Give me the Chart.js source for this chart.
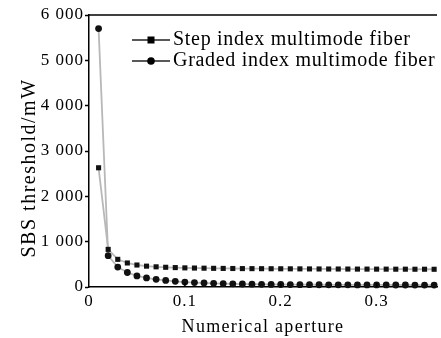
<!DOCTYPE html>
<html>
<head>
<meta charset="utf-8">
<script src="https://cdn.jsdelivr.net/npm/chart.js@4"></script>
<style>
  html, body { margin: 0; padding: 0; background: #fff; overflow: hidden; }
  #chart { display: block; }
</style>
</head>
<body>
<canvas id="chart" width="441" height="338"></canvas>
<script>
// numerical aperture, 0.01 .. 0.36
const apertures = [0.01, 0.02, 0.03, 0.04, 0.05, 0.06, 0.07, 0.08, 0.09, 0.10,
  0.11, 0.12, 0.13, 0.14, 0.15, 0.16, 0.17, 0.18, 0.19, 0.20,
  0.21, 0.22, 0.23, 0.24, 0.25, 0.26, 0.27, 0.28, 0.29, 0.30,
  0.31, 0.32, 0.33, 0.34, 0.35, 0.36];

// SBS threshold (mW)
const stepIndex = [2630, 830, 610, 530, 485, 460, 445, 435, 428, 422,
  418, 415, 412, 410, 408, 406, 405, 404, 403, 402,
  401, 400, 399, 398, 397, 397, 396, 395, 395, 394,
  394, 393, 393, 392, 392, 391];
const gradedIndex = [5700, 690, 440, 320, 245, 200, 170, 145, 125, 108,
  97, 88, 81, 75, 70, 66, 63, 60, 57, 55,
  53, 52, 51, 50, 49, 48, 47, 46, 46, 45,
  45, 44, 44, 43, 43, 42];

const seriesNames = ["Step index multimode fiber", "Graded index multimode fiber"];
const xTicks = [0, 0.1, 0.2, 0.3];
const yTicks = [0, 1000, 2000, 3000, 4000, 5000, 6000];
const xTitle = "Numerical aperture";
const yTitle = "SBS threshold/mW";

const SERIF = "'Liberation Serif', 'Times New Roman', serif";

const toPoints = vals => vals.map((v, i) => ({ x: apertures[i], y: v }));

const frame = {
  id: "frame",
  beforeDraw(chart) {
    chart.ctx.letterSpacing = "1px";
  },
  afterDraw(chart) {
    const { ctx, chartArea: a, scales } = chart;
    ctx.save();
    // top border
    ctx.strokeStyle = "#000";
    ctx.lineWidth = 1.5;
    ctx.beginPath();
    ctx.moveTo(a.left, a.top);
    ctx.lineTo(a.right, a.top);
    ctx.stroke();
    // inward x ticks
    xTicks.slice(1).forEach(v => {
      const px = scales.x.getPixelForValue(v);
      ctx.beginPath();
      ctx.moveTo(px, a.bottom);
      ctx.lineTo(px, a.bottom - 4);
      ctx.stroke();
    });

    // legend
    chart.data.datasets.forEach((ds, i) => {
      const y = 40 + i * 21;
      ctx.strokeStyle = "#222";
      ctx.lineWidth = 1.5;
      ctx.beginPath();
      ctx.moveTo(132, y);
      ctx.lineTo(170, y);
      ctx.stroke();
      ctx.fillStyle = "#000";
      if (ds.pointStyle === "rect") {
        ctx.fillRect(147.5, y - 3.5, 7, 7);
      } else {
        ctx.beginPath();
        ctx.arc(151, y, 3.8, 0, Math.PI * 2);
        ctx.fill();
      }
      ctx.letterSpacing = "0.7px";
      ctx.font = "20px " + SERIF;
      ctx.textAlign = "left";
      ctx.textBaseline = "middle";
      ctx.fillText(ds.label, 173, y);
    });

    // axis titles
    ctx.fillStyle = "#000";
    ctx.letterSpacing = "1.3px";
    ctx.font = "18px " + SERIF;
    ctx.textAlign = "center";
    ctx.textBaseline = "middle";
    ctx.fillText(xTitle, (a.left + a.right) / 2, 327);

    ctx.letterSpacing = "1.5px";
    ctx.font = "20px " + SERIF;
    ctx.translate(30, 168);
    ctx.rotate(-Math.PI / 2);
    ctx.fillText(yTitle, 0, 0);
    ctx.restore();
  }
};

new Chart(document.getElementById("chart"), {
  type: "line",
  data: {
    datasets: [
      {
        label: seriesNames[0],
        data: toPoints(stepIndex),
        borderColor: "#b8b8b8",
        borderWidth: 1.8,
        pointStyle: "rect",
        pointRadius: 3.6,
        pointBackgroundColor: "#111",
        pointBorderColor: "#111",
        pointBorderWidth: 0
      },
      {
        label: seriesNames[1],
        data: toPoints(gradedIndex),
        borderColor: "#b8b8b8",
        borderWidth: 1.8,
        pointStyle: "circle",
        pointRadius: 3.4,
        pointBackgroundColor: "#111",
        pointBorderColor: "#111",
        pointBorderWidth: 0
      }
    ]
  },
  options: {
    responsive: false,
    animation: false,
    clip: false,
    layout: { padding: { left: 0, right: 0, top: 15, bottom: 0 } },
    plugins: {
      legend: { display: false },
      tooltip: { enabled: false }
    },
    scales: {
      x: {
        type: "linear",
        min: 0,
        max: 0.363,
        afterBuildTicks: s => { s.ticks = xTicks.map(v => ({ value: v })); },
        afterFit: s => { s.height = 51; },
        grid: { drawOnChartArea: false, drawTicks: false },
        border: { color: "#000", width: 1.5 },
        ticks: {
          color: "#000",
          padding: 4,
          maxRotation: 0,
          font: { family: SERIF, size: 17 },
          callback: v => (v === 0 ? "0" : v.toFixed(1))
        }
      },
      y: {
        min: 0,
        max: 6000,
        afterBuildTicks: s => { s.ticks = yTicks.map(v => ({ value: v })); },
        afterFit: s => { s.width = 89; },
        grid: { drawOnChartArea: false, tickLength: 4, tickColor: "#000", tickWidth: 1.5 },
        border: { color: "#000", width: 1.5 },
        ticks: {
          color: "#000",
          padding: 1,
          font: { family: SERIF, size: 17 },
          callback: v => String(v).replace(/\B(?=(\d{3})+(?!\d))/g, " ")
        }
      }
    }
  },
  plugins: [frame]
});
</script>
</body>
</html>
